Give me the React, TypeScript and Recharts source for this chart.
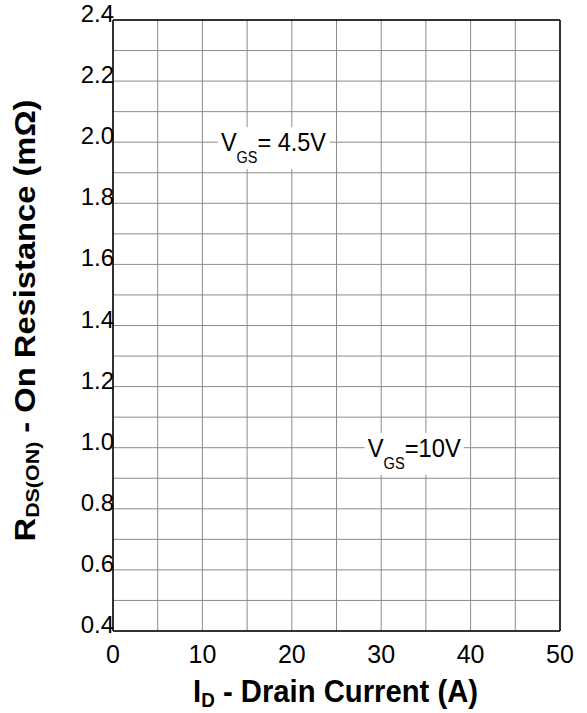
import { ComposedChart, XAxis, YAxis, CartesianGrid, ReferenceLine, ReferenceDot } from 'recharts'

const X_RANGE = [0, 50]
const Y_RANGE = [0.4, 2.4]
const X_TICKS = [0, 5, 10, 15, 20, 25, 30, 35, 40, 45, 50]
const Y_TICKS = [0.4, 0.5, 0.6, 0.7, 0.8, 0.9, 1.0, 1.1, 1.2, 1.3, 1.4, 1.5, 1.6, 1.7, 1.8, 1.9, 2.0, 2.1, 2.2, 2.3, 2.4]

const NOTE_X = [18, 33.7]
const NOTE_Y = [2.0, 1.0]
const NOTE_TEXT = ['= 4.5V', '=10V']

// box width / text length of each note, in px
const NOTE_BOX = [
  { w: 112, len: 105 },
  { w: 99, len: 93 },
]

const FONT = '"Liberation Sans", Arial, sans-serif'

// no curves in this chart, only the grid; the two corners give the axes something to hold
const rows = [
  { x: X_RANGE[0], y: Y_RANGE[0] },
  { x: X_RANGE[1], y: Y_RANGE[1] },
]

const YTick = ({ x, y, payload }: any) => {
  const v = payload.value
  if (Math.round(v * 10) % 2 !== 0) return null
  return (
    <text x={x + 1} y={y + 2} textAnchor="end" fontSize={24} fontFamily={FONT} fill="#000">
      {v.toFixed(1)}
    </text>
  )
}

const XTick = ({ x, y, payload }: any) => {
  const v = payload.value
  if (v % 10 !== 0) return null
  return (
    <text x={x} y={y + 30} textAnchor="middle" fontSize={25} fontFamily={FONT} fill="#000">
      {v}
    </text>
  )
}

const XTitle = ({ viewBox }: any) => {
  const cx = viewBox.x + viewBox.width / 2 - 1
  return (
    <text
      x={cx}
      y={702}
      textAnchor="middle"
      fontSize={31}
      fontWeight="bold"
      fontFamily={FONT}
      fill="#000"
      textLength={285}
      lengthAdjust="spacingAndGlyphs"
    >
      I<tspan fontSize={20} dy={5}>D</tspan>
      <tspan dy={-5}> - Drain Current (A)</tspan>
    </text>
  )
}

const YTitle = ({ viewBox }: any) => {
  const cy = viewBox.y + viewBox.height / 2 - 5
  return (
    <text
      x={35}
      y={cy}
      transform={`rotate(-90 35 ${cy})`}
      textAnchor="middle"
      fontSize={29}
      fontWeight="bold"
      fontFamily={FONT}
      fill="#000"
      textLength={442}
      lengthAdjust="spacingAndGlyphs"
    >
      R<tspan fontSize={19} dy={4}>DS(ON)</tspan>
      <tspan dy={-4}> - On Resistance (mΩ)</tspan>
    </text>
  )
}

const note = (i: number) => ({ cx, cy }: any) => {
  const { w, len } = NOTE_BOX[i]
  const left = cx - w / 2
  return (
    <g>
      <rect x={left} y={cy - 15} width={w} height={42} fill="#fff" />
      <text
        x={left + 3}
        y={cy + 9}
        fontSize={26}
        fontFamily={FONT}
        fill="#000"
        textLength={len}
        lengthAdjust="spacingAndGlyphs"
      >
        V<tspan fontSize={16} dy={12}>GS</tspan>
        <tspan dy={-12}>{NOTE_TEXT[i]}</tspan>
      </text>
    </g>
  )
}

export default function App() {
  return (
    <div style={{ position: 'absolute', left: 0, top: 0, background: '#fff' }}>
      <ComposedChart width={587} height={713} data={rows} margin={{ top: 20, right: 27, bottom: 0, left: 0 }}>
        <CartesianGrid stroke="#8c8c8c" strokeWidth={1} />
        <XAxis
          type="number"
          dataKey="x"
          domain={X_RANGE}
          ticks={X_TICKS}
          interval={0}
          height={82}
          tickLine={false}
          tickSize={0}
          axisLine={{ stroke: '#000', strokeWidth: 1.5 }}
          tick={<XTick />}
          label={<XTitle />}
        />
        <YAxis
          type="number"
          dataKey="y"
          domain={Y_RANGE}
          ticks={Y_TICKS}
          interval={0}
          width={113}
          tickLine={false}
          tickSize={0}
          tickMargin={0}
          axisLine={{ stroke: '#000', strokeWidth: 1.5 }}
          tick={<YTick />}
          label={<YTitle />}
        />
        <ReferenceLine y={Y_RANGE[1]} stroke="#000" strokeWidth={1.5} />
        <ReferenceLine x={X_RANGE[1]} stroke="#000" strokeWidth={1.5} />
        {NOTE_X.map((x, i) => (
          <ReferenceDot key={i} x={x} y={NOTE_Y[i]} r={0} shape={note(i)} isFront />
        ))}
      </ComposedChart>
    </div>
  )
}
